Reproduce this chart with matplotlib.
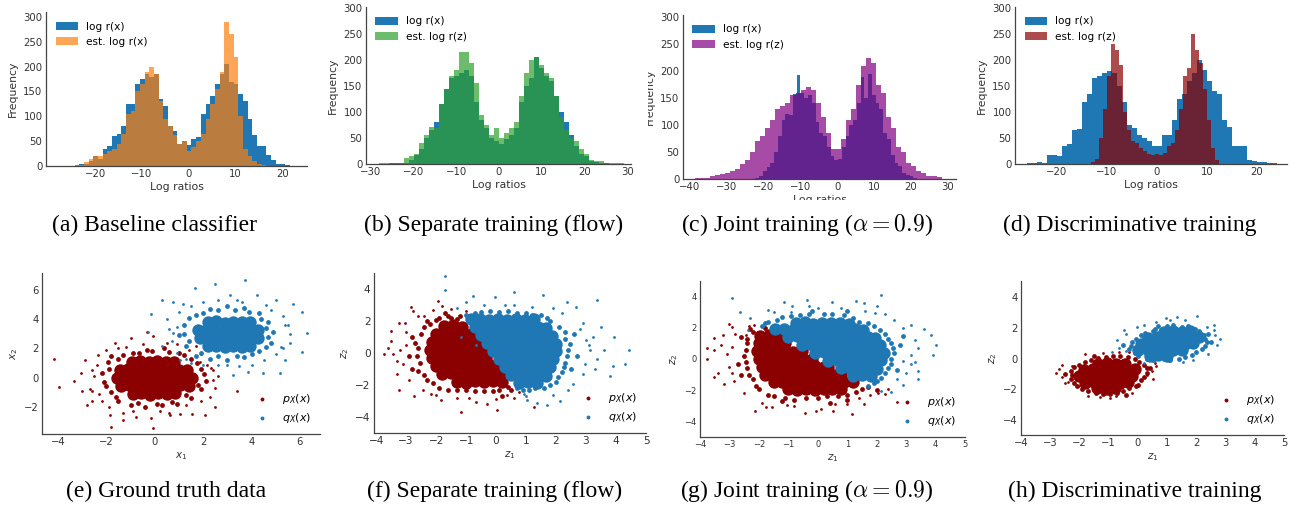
import numpy as np
import matplotlib
matplotlib.use("Agg")
import matplotlib.pyplot as plt
from matplotlib.patches import Rectangle

# ---------------- histogram data (bin start, bin width, counts) ----------------
A_BASE_START, A_BASE_WIDTH = -27.4, 1.0
A_BASE = [1, 1, 1, 2, 4, 5, 10, 20, 15, 35, 40, 60, 65, 80, 125, 125, 165, 175, 185, 180,
          185, 135, 120, 80, 70, 45, 50, 42, 55, 58, 105, 125, 140, 165, 185, 205, 170, 165, 145, 130,
          95, 62, 40, 40, 22, 12, 5, 5, 3, 1]
A_EST_START, A_EST_WIDTH = -27.4, 1.0
A_EST = [1, 1, 1, 2, 3, 8, 15, 20, 20, 25, 30, 35, 45, 65, 105, 110, 150, 165, 190, 200,
         185, 130, 95, 80, 62, 45, 50, 30, 38, 50, 65, 95, 125, 155, 190, 290, 265, 220, 100, 35,
         20, 10, 5, 2, 0, 0, 0, 0, 0, 0]

B_START, B_WIDTH = -28.0, 1.17
B_BASE = [0, 0, 1, 1, 1, 2, 8, 18, 28, 50, 65, 80, 115, 145, 165, 170, 175, 180, 170, 120,
          85, 70, 50, 45, 38, 48, 55, 70, 120, 150, 165, 205, 185, 170, 160, 130, 100, 80, 55, 35,
          20, 15, 5, 3, 1, 1, 0, 0, 0]
B_EST = [1, 1, 1, 1, 1, 12, 15, 20, 40, 55, 72, 70, 115, 145, 170, 180, 215, 215, 195, 155,
         95, 75, 55, 70, 50, 60, 70, 80, 130, 175, 200, 205, 190, 175, 165, 130, 90, 65, 50, 45,
         28, 20, 8, 5, 5, 2, 1, 1, 1]

C_BASE_START, C_BASE_WIDTH = -22.2, 1.02
C_BASE = [2, 5, 15, 22, 30, 50, 80, 110, 120, 118, 158, 193, 160, 150, 155, 140, 105, 85, 80, 60,
          42, 35, 38, 60, 80, 100, 110, 140, 190, 150, 195, 155, 140, 130, 85, 75, 45, 30, 25, 12,
          8, 5, 2]
C_EST_START, C_EST_WIDTH = -38.6, 1.365
C_EST = [1, 2, 2, 5, 8, 10, 12, 15, 18, 28, 35, 50, 70, 80, 95, 110, 130, 135, 140, 155,
         160, 165, 170, 165, 140, 115, 85, 55, 55, 75, 110, 130, 175, 210, 225, 215, 175, 160, 115, 95,
         60, 50, 30, 25, 15, 12, 5, 5, 3]

D_BASE_START, D_BASE_WIDTH = -26.0, 1.0
D_BASE = [1, 1, 3, 1, 18, 18, 15, 35, 38, 65, 68, 120, 135, 165, 170, 175, 178, 175, 150, 120,
          75, 70, 55, 50, 45, 35, 35, 55, 55, 85, 125, 135, 160, 175, 200, 180, 160, 140, 135, 85,
          72, 35, 35, 35, 8, 5, 3, 3, 1, 1]
D_EST_START, D_EST_WIDTH = -13.3, 0.8
D_EST = [3, 10, 50, 105, 170, 230, 220, 190, 100, 65, 45, 40, 30, 25, 20, 18, 20, 18, 22, 35,
         40, 65, 105, 170, 185, 250, 220, 195, 145, 85, 30, 8]

HIST_LABEL_BASE = "log r(x)"
HIST_LABEL_EST = ["est. log r(x)", "est. log r(z)", "est. log r(z)", "est. log r(z)"]

# ---------------- scatter data: dense cores, fringe, sparse outer points ----------------
E_P_CORE = [(-0.95, 1.1), (-0.6, 1.15), (-0.25, 1.05), (0.1, 1.12), (0.45, 1.08), (0.8, 1.1),
            (-1.45, 0.55), (-1.1, 0.6), (-0.75, 0.5), (-0.4, 0.58), (-0.05, 0.52), (0.3, 0.6), (0.65, 0.5),
            (1.0, 0.55), (1.35, 0.52),
            (-1.55, 0.0), (-1.2, 0.05), (-0.85, -0.05), (-0.5, 0.02), (-0.15, -0.03), (0.2, 0.05), (0.55, -0.02),
            (0.9, 0.04), (1.25, -0.05), (1.55, 0.0),
            (-1.4, -0.55), (-1.05, -0.5), (-0.7, -0.6), (-0.35, -0.52), (0.0, -0.58), (0.35, -0.5), (0.7, -0.56),
            (1.05, -0.5), (1.4, -0.55),
            (-0.9, -1.1), (-0.55, -1.05), (-0.2, -1.15), (0.15, -1.08), (0.5, -1.1), (0.85, -1.05)]
E_P_RING = [(-1.9, 0.6), (-2.1, -0.3), (-1.8, -1.0), (-1.5, -1.6), (-1.0, -1.9), (-0.4, -2.0), (0.3, -1.9),
            (0.9, -1.8), (1.5, -1.4), (1.9, -0.8), (2.1, -0.2), (1.9, 0.6), (1.5, 1.3), (1.0, 1.7), (0.4, 2.0),
            (-0.3, 1.9), (-0.9, 1.7), (-1.5, 1.3), (-1.95, 1.1), (-2.2, 0.3), (-2.0, -0.6), (-1.6, -1.3),
            (-0.7, -1.75), (0.1, -1.8), (0.7, -1.65), (1.3, -1.2), (1.8, -0.5), (2.05, 0.25), (1.75, 1.0),
            (1.2, 1.55), (0.6, 1.75), (-0.1, 1.85), (-0.65, 1.7), (-1.3, 1.55), (-1.8, 1.5)]
E_P_DOTS = [(-2.4, 0.9), (-2.6, -0.9), (-2.2, -1.6), (-1.3, -2.4), (0.6, -2.4), (2.3, -1.3), (2.6, 0.1),
            (-2.9, 1.2), (-3.06, 0.29), (-3.35, -0.22), (-3.96, -0.67), (-4.17, 1.31), (-2.69, -0.74),
            (-2.58, -1.61), (-1.79, -3.37), (-1.86, -2.57), (-1.31, -2.91), (-0.79, -2.69), (-0.07, -3.44),
            (-0.14, -2.75), (0.62, -2.57), (1.03, -2.46), (1.56, -2.46), (2.07, -2.53), (2.51, -2.0),
            (3.41, -0.93), (2.41, -0.17), (2.32, 0.63), (2.14, 0.86), (1.86, 1.09), (-0.34, 3.14),
            (-0.07, 2.84), (-0.97, 2.69), (-1.66, 2.34), (-2.34, 1.54), (0.9, 2.3), (1.4, 1.9), (-1.2, 2.1),
            (-2.0, 1.9), (-2.5, 0.1), (-2.3, -1.1), (-1.9, -2.0), (-0.9, -2.3), (0.2, -2.3), (1.3, -1.9),
            (1.9, -1.6), (2.5, -0.7), (2.4, 0.5), (2.3, 1.3), (1.9, 1.6), (0.5, 2.4), (-0.5, 2.3), (-1.5, 2.0),
            (-2.6, 0.5), (-3.0, -0.9), (-2.8, -1.9), (1.7, 2.2)]
E_Q_CORE = [(2.2, 3.8), (2.55, 3.85), (2.9, 3.75), (3.25, 3.82), (3.6, 3.78), (3.95, 3.8),
            (1.8, 3.25), (2.15, 3.3), (2.5, 3.2), (2.85, 3.28), (3.2, 3.22), (3.55, 3.3), (3.9, 3.2), (4.25, 3.25),
            (1.85, 2.7), (2.2, 2.75), (2.55, 2.65), (2.9, 2.72), (3.25, 2.68), (3.6, 2.75), (3.95, 2.65),
            (4.25, 2.7),
            (2.2, 2.15), (2.55, 2.2), (2.9, 2.1), (3.25, 2.18), (3.6, 2.12), (3.95, 2.15)]
E_Q_RING = [(1.2, 3.6), (1.0, 2.9), (1.3, 2.2), (1.7, 1.5), (2.3, 1.3), (3.0, 1.2), (3.7, 1.4), (4.3, 1.8),
            (4.8, 2.4), (4.9, 3.1), (4.7, 3.8), (4.3, 4.4), (3.7, 4.8), (3.0, 4.9), (2.3, 4.7), (1.7, 4.3),
            (1.4, 4.1), (1.2, 3.0), (1.4, 2.5), (1.9, 1.7), (2.6, 1.45), (3.4, 1.5), (4.0, 1.65), (4.6, 2.1),
            (4.7, 2.8), (4.6, 3.4), (4.4, 4.0), (3.9, 4.5), (3.3, 4.6), (2.6, 4.6), (2.0, 4.4)]
E_Q_DOTS = [(1.5, 4.9), (0.5, 4.0), (0.7, 2.5), (5.4, 3.6), (5.2, 2.1), (4.0, 0.9), (2.0, 0.9), (1.66, 6.16),
            (2.48, 6.39), (3.72, 6.69), (0.28, 5.31), (-0.14, 4.33), (0.76, 5.2), (1.17, 5.02), (5.03, 5.31),
            (5.72, 5.02), (6.07, 4.47), (6.28, 3.03), (6.07, 1.73), (5.38, 1.2), (5.17, 0.35), (4.48, 0.35),
            (3.86, 0.4), (3.24, 0.17), (2.97, 0.86), (-0.28, 3.14), (0.76, 3.03), (1.03, 1.2), (1.31, 1.31),
            (5.52, 3.6), (5.59, 2.34), (5.31, 2.0), (4.21, 5.66), (3.1, 5.66), (2.6, 5.3), (4.6, 5.0), (3.4, 5.3),
            (0.9, 3.5), (1.0, 4.5), (0.6, 3.3), (2.0, 5.2), (3.6, 5.2), (4.8, 4.6), (5.3, 4.2), (5.6, 3.0),
            (5.0, 1.6), (4.5, 1.2), (3.5, 0.8), (2.6, 0.9), (1.5, 1.0), (0.9, 1.7), (0.3, 2.2)]

F_P_CORE = [(-1.75, 1.7), (-1.45, 1.75), (-1.15, 1.65),
            (-2.0, 1.2), (-1.7, 1.25), (-1.4, 1.15), (-1.1, 1.22), (-0.85, 1.18),
            (-2.15, 0.7), (-1.85, 0.75), (-1.55, 0.65), (-1.25, 0.72), (-0.95, 0.68), (-0.65, 0.7),
            (-2.2, 0.2), (-1.9, 0.25), (-1.6, 0.15), (-1.3, 0.22), (-1.0, 0.18), (-0.7, 0.2), (-0.45, 0.2),
            (-2.15, -0.3), (-1.85, -0.25), (-1.55, -0.35), (-1.25, -0.28), (-0.95, -0.32), (-0.65, -0.3), (-0.35, -0.3),
            (-2.0, -0.8), (-1.7, -0.75), (-1.4, -0.85), (-1.1, -0.78), (-0.8, -0.82), (-0.5, -0.8), (-0.2, -0.78),
            (-0.05, -0.82),
            (-1.8, -1.3), (-1.5, -1.25), (-1.2, -1.35), (-0.9, -1.28), (-0.6, -1.32), (-0.3, -1.3), (0.0, -1.28),
            (0.15, -1.32),
            (-1.3, -1.8), (-1.0, -1.85), (-0.7, -1.75), (-0.4, -1.82), (-0.1, -1.78), (0.2, -1.8)]
F_P_RING = [(-2.5, 1.2), (-2.6, 0.3), (-2.55, -0.6), (-2.4, -1.4), (-2.1, -1.9), (-1.6, -2.3), (-1.0, -2.3),
            (-0.4, -2.4), (0.1, -2.3), (-2.2, 1.8), (-1.9, 2.2), (-1.5, 2.2), (-1.2, 2.3), (-2.8, 1.0),
            (-2.9, -0.2), (-2.8, -1.0), (-2.3, 2.0), (-1.7, 2.5), (0.5, -2.3), (0.2, -2.7),
            (-2.7, 0.6), (-2.65, -0.2), (-2.6, -1.1), (-2.3, -1.7), (-1.9, -2.2), (-1.3, -2.3), (-0.7, -2.4),
            (-0.1, -2.35), (0.4, -2.1), (-2.4, 1.6), (-2.0, 2.05), (-1.6, 2.3), (-1.3, 2.15)]
F_P_DOTS = [(-3.72, -0.05), (-3.5, 1.4), (-3.5, 0.73), (-3.42, -0.05), (-3.25, 1.86), (-3.05, 1.86), (-2.83, 2.86),
            (-2.78, 2.65), (-3.25, -2.3), (-2.72, -2.71), (-2.45, -2.34), (-3.1, -0.67), (-1.95, 3.27),
            (-1.79, 2.96), (-1.51, 2.75), (-2.39, 2.34), (-1.18, -3.69), (0.04, -3.54), (-0.29, -3.17),
            (-0.68, -3.07), (1.26, -3.38), (0.92, -1.82), (0.76, -2.44), (0.37, -2.65), (-1.84, -2.96),
            (-2.17, -2.55), (-3.0, 0.5), (-3.3, -1.3), (-1.3, -2.8), (-3.2, 0.2), (-3.0, 1.3), (-3.3, -0.5),
            (-2.9, -1.7), (-2.0, -2.6), (-0.9, -2.8), (0.0, -2.9), (0.6, -2.8), (-2.6, 2.3), (-2.1, 2.7),
            (-3.6, 0.3), (-1.0, 2.6)]
F_Q_CORE = [(-0.85, 2.1), (-0.55, 2.15), (-0.25, 2.05), (0.05, 2.12), (0.35, 2.08), (0.65, 2.1), (0.95, 2.05),
            (1.25, 2.1),
            (-0.7, 1.6), (-0.4, 1.65), (-0.1, 1.55), (0.2, 1.62), (0.5, 1.58), (0.8, 1.6), (1.1, 1.55), (1.4, 1.62),
            (1.65, 1.58),
            (-0.5, 1.1), (-0.2, 1.15), (0.1, 1.05), (0.4, 1.12), (0.7, 1.08), (1.0, 1.1), (1.3, 1.05), (1.6, 1.12),
            (1.85, 1.08),
            (-0.3, 0.6), (0.0, 0.65), (0.3, 0.55), (0.6, 0.62), (0.9, 0.58), (1.2, 0.6), (1.5, 0.55), (1.8, 0.62),
            (2.0, 0.58),
            (-0.1, 0.1), (0.2, 0.15), (0.5, 0.05), (0.8, 0.12), (1.1, 0.08), (1.4, 0.1), (1.7, 0.05), (2.0, 0.12),
            (0.1, -0.4), (0.4, -0.35), (0.7, -0.45), (1.0, -0.38), (1.3, -0.42), (1.6, -0.4), (1.9, -0.38),
            (0.3, -0.9), (0.6, -0.85), (0.9, -0.95), (1.2, -0.88), (1.5, -0.92), (1.8, -0.9),
            (0.5, -1.4), (0.8, -1.35), (1.1, -1.45), (1.4, -1.38), (1.65, -1.42),
            (0.75, -1.85), (1.05, -1.8), (1.35, -1.88)]
F_Q_RING = [(2.3, 0.9), (2.4, 0.2), (2.3, -0.6), (2.2, -1.2), (2.0, -1.8), (1.6, -2.2), (1.1, -2.3), (0.7, -2.2),
            (1.8, 2.0), (1.5, 2.4), (1.0, 2.5), (0.4, 2.6), (-0.2, 2.6), (-0.7, 2.5), (-1.0, 2.4), (2.1, 1.6),
            (2.6, 1.2), (2.7, -0.2), (2.5, -1.0), (2.3, 1.3), (2.45, 0.55), (2.35, -0.2), (2.25, -0.9),
            (2.05, -1.5), (1.8, -2.0), (1.3, -2.2), (0.9, -2.3), (1.7, 2.2), (1.2, 2.4), (0.7, 2.5), (0.1, 2.55),
            (-0.5, 2.55), (-0.9, 2.3)]
F_Q_DOTS = [(-1.71, 4.84), (-1.71, 3.95), (-0.77, 3.59), (-0.05, 3.48), (0.59, 3.79), (1.55, 3.65), (2.38, 3.17),
            (2.66, 2.9), (3.38, 3.32), (3.93, 1.03), (4.43, 0.16), (4.3, -0.67), (3.8, -1.46), (3.38, -0.36),
            (3.22, 1.03), (2.8, 1.51), (2.58, -1.92), (2.14, -3.02), (1.7, -3.27), (1.37, -3.13), (1.03, -2.92),
            (0.92, -2.55), (2.97, -0.67), (3.14, 0.16), (-1.18, 0.99), (-0.85, 1.61), (-0.68, 0.47), (0.3, 3.0),
            (1.2, 2.9), (3.0, 0.8), (3.3, -1.0), (-1.3, 2.8), (2.9, 1.9), (3.1, 0.5), (2.9, -1.3), (2.4, -2.3),
            (1.9, -2.6), (1.0, -2.7), (0.6, 3.0), (-0.4, 3.0), (1.9, 2.8), (3.6, 0.2), (3.5, 1.6), (2.2, 2.5),
            (-1.0, 3.2), (3.9, -0.8)]

G_P_CORE = [(-1.95, 1.5), (-1.65, 1.55), (-1.4, 1.45),
            (-2.0, 1.0), (-1.7, 1.05), (-1.4, 0.95), (-1.1, 1.02),
            (-2.05, 0.5), (-1.75, 0.55), (-1.45, 0.45), (-1.15, 0.52), (-0.85, 0.48), (-0.55, 0.5),
            (-2.0, 0.0), (-1.7, 0.05), (-1.4, -0.05), (-1.1, 0.02), (-0.8, -0.02), (-0.5, 0.0), (-0.2, 0.02),
            (-1.9, -0.5), (-1.6, -0.45), (-1.3, -0.55), (-1.0, -0.48), (-0.7, -0.52), (-0.4, -0.5), (-0.1, -0.48),
            (0.2, -0.52), (0.35, -0.5),
            (-1.8, -1.0), (-1.5, -0.95), (-1.2, -1.05), (-0.9, -0.98), (-0.6, -1.02), (-0.3, -1.0), (0.0, -0.98),
            (0.3, -1.02), (0.55, -1.0), (0.8, -1.0),
            (-1.5, -1.5), (-1.2, -1.45), (-0.9, -1.55), (-0.6, -1.48), (-0.3, -1.52), (0.0, -1.5), (0.3, -1.48),
            (0.6, -1.52), (0.9, -1.5), (1.2, -1.5),
            (-1.0, -1.95), (-0.7, -2.0), (-0.4, -1.9), (-0.1, -1.97), (0.2, -1.93), (0.5, -1.95), (0.8, -1.93)]
G_P_RING = [(-2.4, 1.0), (-2.5, 0.2), (-2.4, -0.6), (-2.2, -1.3), (-2.0, -1.9), (-1.5, -2.4), (-0.8, -2.6),
            (0.0, -2.5), (0.7, -2.4), (1.3, -2.1), (1.7, -1.8), (-2.2, 1.7), (-1.8, 2.0), (-2.6, 1.4), (-2.7, -0.3),
            (-2.6, -1.0), (-1.2, -2.7), (0.4, -2.8), (1.0, -2.6), (2.0, -2.0), (-2.4, 1.3), (-2.45, 0.6),
            (-2.45, -0.2), (-2.35, -1.0), (-2.1, -1.7), (-1.7, -2.3), (-1.1, -2.5), (-0.4, -2.5), (0.3, -2.4),
            (1.0, -2.3), (1.5, -1.95), (-2.3, 1.9)]
G_P_DOTS = [(-3.77, 0.72), (-3.77, -0.03), (-3.51, 1.32), (-3.51, 0.55), (-3.51, -1.17), (-3.38, -0.89),
            (-3.23, 1.57), (-3.01, 2.26), (-2.9, 2.04), (-2.83, -1.43), (-2.13, -3.32), (-1.76, -3.1),
            (-1.56, -3.1), (-1.04, -2.97), (-0.45, -3.47), (-0.05, -3.32), (0.1, -3.21), (0.52, -3.36),
            (1.16, -3.53), (1.0, -2.89), (1.57, -2.89), (1.76, -2.29), (2.05, -2.18), (2.3, -2.25), (2.7, -2.78),
            (-2.32, 2.11), (-2.15, 2.21), (-2.43, 1.57), (-3.0, -0.5), (-2.9, 0.8), (-3.1, 0.3), (-2.9, -0.9),
            (-3.2, -1.6), (-2.5, -2.2), (-1.9, -2.8), (-0.8, -3.0), (0.6, -2.9), (1.4, -2.5), (-2.8, 1.6),
            (-3.3, 0.9), (2.4, -1.9)]
G_Q_CORE = [(-0.75, 2.3), (-0.45, 2.35), (-0.15, 2.25), (0.15, 2.32), (0.45, 2.28), (0.75, 2.3), (1.05, 2.25),
            (-1.45, 1.9), (-1.15, 1.95), (-0.85, 1.85), (-0.55, 1.92), (-0.25, 1.88), (0.05, 1.9), (0.35, 1.85),
            (0.65, 1.92), (0.95, 1.88), (1.25, 1.9), (1.55, 1.85),
            (-1.0, 1.4), (-0.7, 1.45), (-0.4, 1.35), (-0.1, 1.42), (0.2, 1.38), (0.5, 1.4), (0.8, 1.35), (1.1, 1.42),
            (1.4, 1.38), (1.7, 1.4), (1.95, 1.35),
            (-0.55, 0.9), (-0.25, 0.95), (0.05, 0.85), (0.35, 0.92), (0.65, 0.88), (0.95, 0.9), (1.25, 0.85),
            (1.55, 0.92), (1.85, 0.88), (2.1, 0.9),
            (-0.1, 0.4), (0.2, 0.45), (0.5, 0.35), (0.8, 0.42), (1.1, 0.38), (1.4, 0.4), (1.7, 0.35), (2.0, 0.42),
            (2.25, 0.38),
            (0.35, -0.1), (0.65, -0.05), (0.95, -0.15), (1.25, -0.08), (1.55, -0.12), (1.85, -0.1), (2.15, -0.08),
            (0.8, -0.6), (1.1, -0.55), (1.4, -0.65), (1.7, -0.58), (2.0, -0.62),
            (1.2, -1.1), (1.5, -1.05), (1.8, -1.12)]
G_Q_RING = [(-1.7, 2.4), (-1.2, 2.7), (-0.6, 2.85), (0.2, 2.9), (0.9, 2.8), (1.4, 2.4), (1.9, 2.1), (2.3, 1.6),
            (2.5, 1.0), (2.6, 0.4), (2.5, -0.3), (2.3, -0.9), (2.0, -1.4), (1.7, -1.7), (-1.9, 2.1), (2.8, 0.9),
            (2.7, -0.7), (1.0, 3.1), (-0.2, 3.1), (2.9, 1.5), (-1.4, 2.5), (-0.9, 2.75), (-0.3, 2.9), (0.5, 2.9),
            (1.2, 2.65), (1.7, 2.3), (2.1, 1.85), (2.4, 1.3), (2.55, 0.7), (2.5, 0.0), (2.4, -0.6), (2.15, -1.2),
            (1.9, -1.55), (-1.8, 2.3)]
G_Q_DOTS = [(-2.91, 3.93), (-2.64, 3.03), (-1.7, 3.12), (-1.15, 3.68), (-0.87, 3.4), (-0.38, 3.76), (0.49, 3.68),
            (1.31, 3.72), (1.57, 3.62), (2.16, 4.09), (1.94, 2.92), (3.15, 2.16), (3.84, 1.53), (4.0, 0.89),
            (3.92, 0.25), (3.16, 0.25), (3.41, -0.74), (3.41, -1.28), (2.9, -1.64), (2.5, -2.14), (2.16, -2.03),
            (3.15, -0.31), (2.9, -0.14), (-2.38, 1.83), (-1.87, 2.11), (3.3, 1.2), (2.6, 2.5), (-0.9, 3.0),
            (-2.3, 2.6), (-1.5, 3.0), (-0.3, 3.4), (0.8, 3.3), (1.6, 3.1), (2.3, 2.9), (2.9, 2.0), (3.4, 0.7),
            (3.3, -0.2), (3.0, -0.9), (2.7, -1.3), (3.6, 1.9), (0.0, 3.3), (2.0, 3.4)]

H_P_CORE = [(-1.35, -0.35), (-1.05, -0.3), (-0.75, -0.38), (-0.45, -0.32),
            (-1.85, -0.75), (-1.55, -0.7), (-1.25, -0.78), (-0.95, -0.72), (-0.65, -0.76), (-0.35, -0.74), (-0.1, -0.7),
            (-2.0, -1.15), (-1.7, -1.1), (-1.4, -1.18), (-1.1, -1.12), (-0.8, -1.16), (-0.5, -1.14), (-0.2, -1.1),
            (-1.8, -1.55), (-1.5, -1.5), (-1.2, -1.58), (-0.9, -1.52), (-0.6, -1.56), (-0.35, -1.54),
            (-1.4, -1.9), (-1.1, -1.95), (-0.8, -1.88)]
H_P_RING = [(-2.3, -0.8), (-2.3, -1.3), (-2.1, -1.8), (-1.7, -2.1), (-1.2, -2.3), (-0.7, -2.2), (-0.3, -1.9),
            (0.1, -1.4), (0.3, -0.9), (0.2, -0.4), (-0.1, 0.0), (-0.6, 0.15), (-1.1, 0.1), (-1.6, -0.1),
            (-2.0, -0.4), (-2.5, -1.0), (0.0, -1.7), (-0.4, -2.35), (-1.5, 0.2), (0.4, -0.6), (-2.2, -0.55),
            (-2.25, -1.05), (-2.2, -1.55), (-1.9, -2.0), (-1.45, -2.25), (-0.95, -2.3), (-0.5, -2.1),
            (-0.05, -1.75), (0.2, -1.2), (0.3, -0.6), (0.05, -0.2), (-0.35, 0.1), (-0.85, 0.2), (-1.35, 0.05),
            (-1.8, -0.2)]
H_P_DOTS = [(-2.7, -0.67), (-2.61, -1.21), (-1.29, -2.49), (-0.97, -2.55), (-0.74, -2.4), (-0.4, -2.34),
            (0.48, -0.78), (0.63, -0.5), (0.31, -1.04), (-2.27, -0.5), (-1.18, 0.37), (-0.66, 0.43),
            (-2.06, -1.79), (-2.4, -1.5), (-2.6, -0.4), (-2.5, -1.6), (-1.7, -2.4), (-0.2, -2.2), (0.5, -1.3),
            (0.6, -0.3), (-0.3, 0.4), (-1.8, 0.3), (-2.8, -0.9)]
H_Q_CORE = [(0.9, 1.75), (1.2, 1.8), (1.5, 1.72), (1.8, 1.76),
            (0.35, 1.35), (0.65, 1.4), (0.95, 1.32), (1.25, 1.38), (1.55, 1.34), (1.85, 1.36), (2.1, 1.4),
            (0.1, 0.95), (0.4, 1.0), (0.7, 0.92), (1.0, 0.98), (1.3, 0.94), (1.6, 0.96), (1.9, 1.0),
            (0.0, 0.55), (0.3, 0.6), (0.6, 0.52), (0.9, 0.58), (1.2, 0.54), (1.5, 0.56),
            (0.4, 0.2), (0.7, 0.25), (1.0, 0.18)]
H_Q_RING = [(-0.3, 0.6), (-0.2, 1.1), (0.1, 1.5), (0.5, 1.8), (0.7, 2.1), (1.2, 2.2), (1.7, 2.1), (2.1, 1.8),
            (2.3, 1.3), (2.3, 0.8), (2.0, 0.4), (1.6, 0.1), (1.1, -0.1), (0.5, -0.1), (0.0, 0.2), (-0.5, 0.9),
            (2.5, 1.1), (2.4, 1.6), (-0.1, 0.35), (-0.25, 0.85), (-0.05, 1.3), (0.25, 1.65), (0.6, 1.95),
            (1.0, 2.1), (1.5, 2.05), (1.95, 1.9), (2.25, 1.55), (2.35, 1.05), (2.2, 0.6), (1.85, 0.25),
            (1.4, 0.0), (0.9, -0.05), (0.3, 0.0)]
H_Q_DOTS = [(-0.46, 1.88), (-0.03, 2.03), (0.62, 2.38), (0.96, 2.64), (1.34, 2.68), (2.03, 2.79), (2.37, 2.08),
            (2.65, 1.56), (2.62, 1.88), (1.53, -0.22), (1.05, -0.17), (0.6, -0.06), (-0.66, 0.69), (-0.41, 0.52),
            (2.8, 1.3), (-0.7, 1.2), (-0.4, 1.6), (0.2, 2.2), (1.6, 2.5), (2.6, 2.2), (2.7, 0.9), (2.4, 0.3),
            (1.9, -0.1), (0.2, -0.3), (-0.9, 0.4), (1.1, 2.5)]

SCATTER_LABELS = [r"$p_X(x)$", r"$q_X(x)$"]

CAPTIONS = ["(a) Baseline classifier", "(b) Separate training (flow)",
            r"(c) Joint training ($\alpha = 0.9$)", "(d) Discriminative training",
            "(e) Ground truth data", "(f) Separate training (flow)",
            r"(g) Joint training ($\alpha = 0.9$)", "(h) Discriminative training"]

# ---------------- styling / layout ----------------
W, H = 1296, 505
BLUE = "#1f77b4"
RED = "#8b0000"
EST_COLORS = ["#ff7f0e", "#2ca02c", "#800080", "#8b0000"]
TXT = "#333333"

fig = plt.figure(figsize=(W / 100, H / 100), dpi=100)
fig.patch.set_facecolor("white")


def px_axes(l, t, r, b):
    return fig.add_axes([l / W, 1 - b / H, (r - l) / W, (b - t) / H])


def style(ax, tsize):
    for s in ("top", "right"):
        ax.spines[s].set_visible(False)
    for s in ("left", "bottom"):
        ax.spines[s].set_color("#444444")
        ax.spines[s].set_linewidth(0.9)
    ax.tick_params(length=0, labelsize=tsize, colors=TXT, pad=2.5)
    ax.set_facecolor("white")


def edges(start, width, counts):
    return start + width * np.arange(len(counts) + 1)


def hist_panel(box, base, est, est_color, est_label, xlim, ylim, xticks):
    ax = px_axes(*box)
    style(ax, 7.3)
    bs, bw, bc = base
    es, ew, ec = est
    ax.stairs(bc, edges(bs, bw, bc), fill=True, color=BLUE, label=HIST_LABEL_BASE)
    ax.stairs(ec, edges(es, ew, ec), fill=True, color=est_color, alpha=0.7, label=est_label)
    ax.set_xlim(*xlim)
    ax.set_ylim(*ylim)
    ax.set_xticks(xticks)
    ax.set_yticks([0, 50, 100, 150, 200, 250, 300])
    ax.set_xlabel("Log ratios", fontsize=7.8, color=TXT, labelpad=2)
    ax.set_ylabel("Frequency", fontsize=7.8, color=TXT, labelpad=4)
    ax.legend(loc="upper left", frameon=False, fontsize=7.6, handlelength=2.1,
              handleheight=0.75, handletextpad=0.8, labelspacing=0.5)
    return ax


def scatter_panel(box, p_sets, q_sets, xlim, ylim, xticks, yticks, xl, yl, tsize):
    ax = px_axes(*box)
    style(ax, tsize)
    sizes = (80, 12, 4)
    for sets, color, label, z in ((p_sets, RED, SCATTER_LABELS[0], 2), (q_sets, BLUE, SCATTER_LABELS[1], 3)):
        for pts, s in zip(sets, sizes):
            arr = np.array(pts).T
            ax.scatter(arr[0], arr[1], s=s, color=color, linewidths=0, zorder=z,
                       label=label if s == sizes[-1] else None)
    ax.set_xlim(*xlim)
    ax.set_ylim(*ylim)
    ax.set_xticks(xticks)
    ax.set_yticks(yticks)
    ax.set_xlabel(xl, fontsize=7.5, color=TXT, labelpad=2)
    ax.set_ylabel(yl, fontsize=7.5, color=TXT, labelpad=3)
    ax.legend(loc="lower right", frameon=False, fontsize=8, markerscale=1.4,
              handletextpad=0.8, labelspacing=0.5, borderaxespad=0.4)
    return ax


hist_panel((46, 12, 307, 166), (A_BASE_START, A_BASE_WIDTH, A_BASE), (A_EST_START, A_EST_WIDTH, A_EST),
           EST_COLORS[0], HIST_LABEL_EST[0], (-30.5, 25.3), (0, 310), [-20, -10, 0, 10, 20])
hist_panel((366, 7, 631, 164), (B_START, B_WIDTH, B_BASE), (B_START, B_WIDTH, B_EST),
           EST_COLORS[1], HIST_LABEL_EST[1], (-31.1, 30.9), (0, 302), [-30, -20, -10, 0, 10, 20, 30])
hist_panel((683, 15, 956, 179), (C_BASE_START, C_BASE_WIDTH, C_BASE), (C_EST_START, C_EST_WIDTH, C_EST),
           EST_COLORS[2], HIST_LABEL_EST[2], (-41.8, 32.2), (0, 304), [-40, -30, -20, -10, 0, 10, 20, 30])
hist_panel((1015, 7, 1287, 164), (D_BASE_START, D_BASE_WIDTH, D_BASE), (D_EST_START, D_EST_WIDTH, D_EST),
           EST_COLORS[3], HIST_LABEL_EST[3], (-28.4, 26.0), (0, 302), [-20, -10, 0, 10, 20])

zt = [-4, -3, -2, -1, 0, 1, 2, 3, 4, 5]
scatter_panel((42, 273, 320, 434), (E_P_CORE, E_P_RING, E_P_DOTS), (E_Q_CORE, E_Q_RING, E_Q_DOTS),
              (-4.66, 6.83), (-3.85, 7.16), [-4, -2, 0, 2, 4, 6], [-2, 0, 2, 4, 6], r"$x_1$", r"$x_2$", 7.2)
scatter_panel((374, 273, 646, 433), (F_P_CORE, F_P_RING, F_P_DOTS), (F_Q_CORE, F_Q_RING, F_Q_DOTS),
              (-4.07, 5.0), (-5, 5), zt, [-4, -2, 0, 2, 4], r"$z_1$", r"$z_2$", 7.6)
scatter_panel((700, 281, 965, 437), (G_P_CORE, G_P_RING, G_P_DOTS), (G_Q_CORE, G_Q_RING, G_Q_DOTS),
              (-4, 5), (-5, 5), zt, [-4, -2, 0, 2, 4], r"$z_1$", r"$z_2$", 6.0)
scatter_panel((1021, 281, 1284, 435), (H_P_CORE, H_P_RING, H_P_DOTS), (H_Q_CORE, H_Q_RING, H_Q_DOTS),
              (-4, 5), (-4.95, 5.03), zt, [-4, -2, 0, 2, 4], r"$z_1$", r"$z_2$", 7.2)

# the (c) panel is cropped in the original: its y label and x label are partly cut
for (l, t, r, b) in [(637, 0, 648, 205), (648, 200, 972, 214)]:
    fig.patches.append(Rectangle((l / W, 1 - b / H), (r - l) / W, (b - t) / H,
                                 transform=fig.transFigure, facecolor="white",
                                 edgecolor="none", zorder=5))

CAP_POS = [(155, 225), (494, 225), (807, 225), (1130, 225),
           (166, 491), (495, 491), (807, 491), (1135, 491)]
for text, (cx, cy) in zip(CAPTIONS, CAP_POS):
    fig.text(cx / W, 1 - cy / H, text, ha="center", va="center", fontsize=17,
             family="Liberation Serif", color="black", math_fontfamily="cm", zorder=6)

fig.savefig("out.png", dpi=100, facecolor="white")
